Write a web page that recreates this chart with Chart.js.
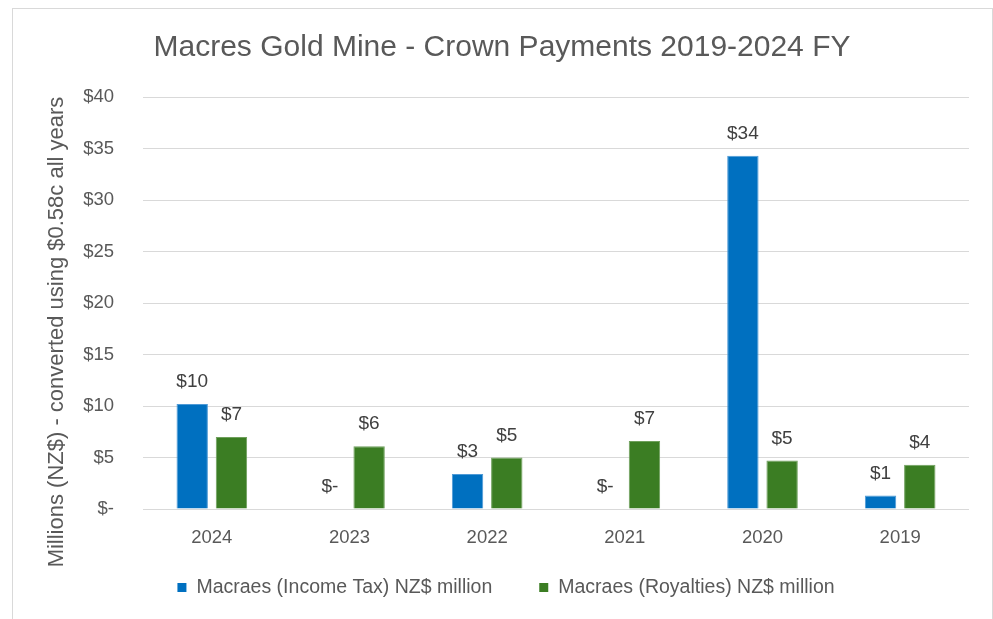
<!DOCTYPE html>
<html>
<head>
<meta charset="utf-8">
<script src="https://cdn.jsdelivr.net/npm/chart.js@4.4.1/dist/chart.umd.min.js"></script>
<style>
  html, body { margin: 0; padding: 0; background: #fff; }
  #wrap { width: 993px; height: 619px; position: relative; }
</style>
</head>
<body>
<div id="wrap"><canvas id="grafico"></canvas></div>
<script>
// dados
const anos = ['2024', '2023', '2022', '2021', '2020', '2019']
const impostoRenda = [10.2, 0, 3.4, 0, 34.3, 1.3]
const royalties = [7.0, 6.1, 5.0, 6.6, 4.7, 4.3]
const nomesSeries = ['Macraes (Income Tax) NZ$ million', 'Macraes (Royalties) NZ$ million']
const coresSeries = ['#0070c0', '#3b7d23']
const tituloGrafico = 'Macres Gold Mine - Crown Payments 2019-2024 FY'
const tituloEixoY = 'Millions (NZ$) - converted using $0.58c all years'

const cinza = '#595959'
const fonte = "'Liberation Sans', Arial, sans-serif"

function formatoDolar(v) {
    if (Math.round(v) == 0) {
        return '$-'
    }
    return '$' + Math.round(v)
}

// moldura, titulo, titulo do eixo y e legenda
const pluginExtras = {
    id: 'extras',
    beforeDraw(chart) {
        const ctx = chart.ctx
        ctx.save()
        ctx.fillStyle = '#fff'
        ctx.fillRect(0, 0, chart.width, chart.height)
        ctx.strokeStyle = '#d9d9d9'
        ctx.lineWidth = 1
        ctx.strokeRect(12.5, 8.5, 980, 700)
        ctx.restore()
    },
    afterDraw(chart) {
        const ctx = chart.ctx
        ctx.save()
        ctx.fillStyle = cinza
        ctx.textAlign = 'center'
        ctx.textBaseline = 'middle'
        ctx.font = '30px ' + fonte
        ctx.fillText(tituloGrafico, 502, 48)

        ctx.save()
        ctx.translate(57, 332)
        ctx.rotate(-Math.PI / 2)
        ctx.font = '22px ' + fonte
        ctx.fillText(tituloEixoY, 0, 0)
        ctx.restore()

        // legenda
        ctx.font = '19.5px ' + fonte
        ctx.textAlign = 'left'
        let larguras = nomesSeries.map(n => ctx.measureText(n).width)
        let total = 0
        for (let i = 0; i < nomesSeries.length; i++) {
            total += 19 + larguras[i]
            if (i < nomesSeries.length - 1) total += 47
        }
        let x = 506 - total / 2
        for (let i = 0; i < nomesSeries.length; i++) {
            ctx.fillStyle = coresSeries[i]
            ctx.fillRect(x, 583, 9, 9)
            ctx.fillStyle = cinza
            ctx.fillText(nomesSeries[i], x + 19, 588)
            x += 19 + larguras[i] + 47
        }
        ctx.restore()
    }
}

// rotulos em cima das barras
const pluginRotulos = {
    id: 'rotulos',
    afterDatasetsDraw(chart) {
        const ctx = chart.ctx
        ctx.save()
        ctx.font = '19px ' + fonte
        ctx.fillStyle = '#404040'
        ctx.textAlign = 'center'
        ctx.textBaseline = 'middle'
        chart.data.datasets.forEach((ds, i) => {
            const meta = chart.getDatasetMeta(i)
            meta.data.forEach((barra, j) => {
                ctx.fillText(formatoDolar(ds.data[j]), barra.x, barra.y - 22)
            })
        })
        ctx.restore()
    }
}

let ctx = document.getElementById('grafico').getContext('2d')
let myChart = new Chart(ctx, {
    type: 'bar',
    data: {
        labels: anos,
        datasets: [{
            label: nomesSeries[0],
            data: impostoRenda,
            backgroundColor: coresSeries[0],
            borderColor: '#4f9ad6',
            borderWidth: 1,
            barPercentage: 0.8,
            categoryPercentage: 0.57
        }, {
            label: nomesSeries[1],
            data: royalties,
            backgroundColor: coresSeries[1],
            borderColor: '#6fa05c',
            borderWidth: 1,
            barPercentage: 0.8,
            categoryPercentage: 0.57
        }]
    },
    options: {
        responsive: true,
        maintainAspectRatio: false,
        animation: false,
        layout: {
            padding: { left: 12, right: 24, top: 97, bottom: 60 }
        },
        scales: {
            x: {
                grid: { display: false, drawTicks: false },
                border: { display: false },
                ticks: { color: cinza, font: { family: fonte, size: 18.5 }, padding: 18 },
                afterFit(scale) { scale.height = 50 }
            },
            y: {
                min: 0,
                max: 40,
                ticks: {
                    stepSize: 5,
                    color: cinza,
                    font: { family: fonte, size: 18.5 },
                    padding: 29,
                    callback: v => formatoDolar(v)
                },
                grid: { color: '#d9d9d9', drawTicks: false },
                border: { display: false },
                afterFit(scale) { scale.width = 131 }
            }
        },
        plugins: {
            title: { display: false },
            legend: { display: false },
            tooltip: { enabled: false }
        }
    },
    plugins: [pluginExtras, pluginRotulos]
})
</script>
</body>
</html>
